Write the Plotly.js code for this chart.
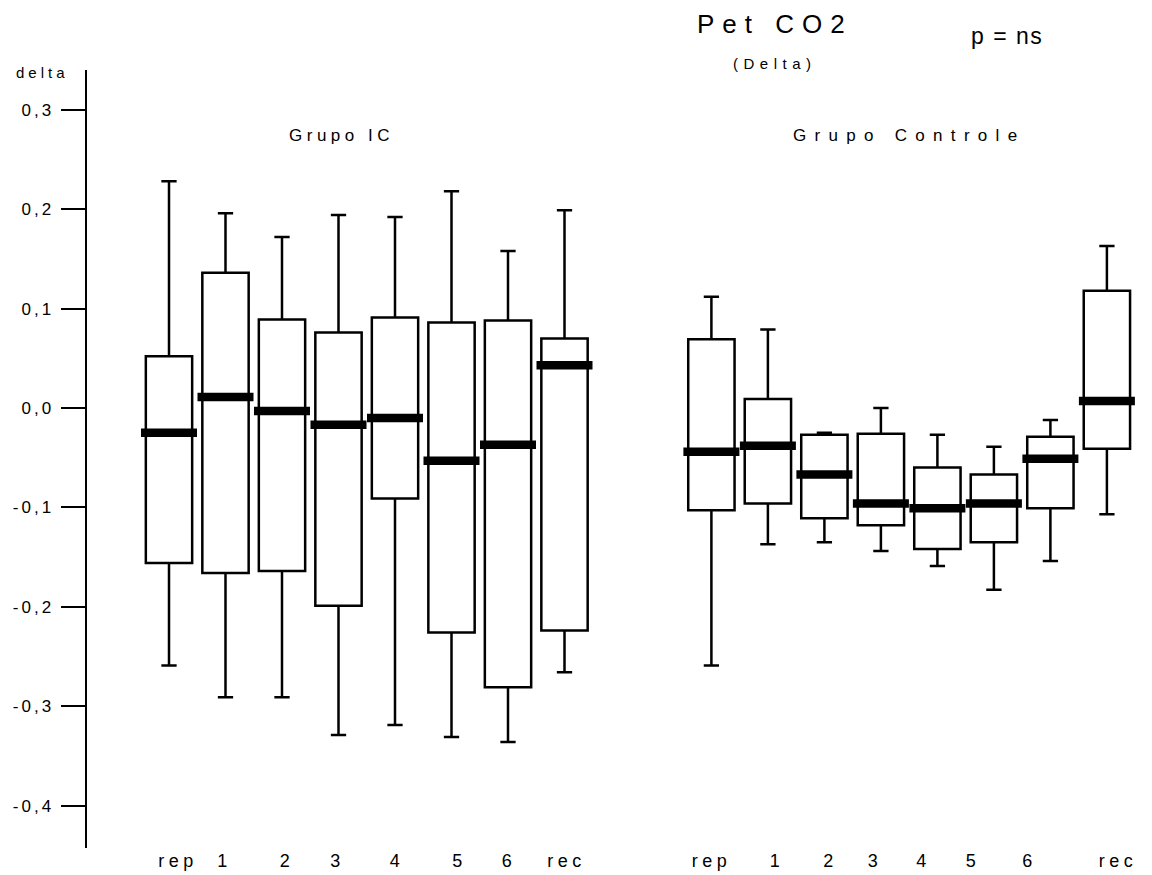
<!DOCTYPE html>
<html>
<head>
<meta charset="utf-8">
<script src="https://cdn.plot.ly/plotly-3.0.1.min.js"></script>
<style>
  html, body { margin: 0; padding: 0; background: #fff; }
  #chart { width: 1152px; height: 875px; }
</style>
</head>
<body>
<div id="chart"></div>
<script>
// ---------- DATA ----------
const categories = ['rep', '1', '2', '3', '4', '5', '6', 'rec'];
const groupNames = ['Grupo IC', 'Grupo Controle'];

// Grupo IC
const icUpper  = [0.228, 0.196, 0.172, 0.194, 0.192, 0.218, 0.158, 0.199];
const icQ3     = [0.052, 0.136, 0.089, 0.076, 0.091, 0.086, 0.088, 0.070];
const icMedian = [-0.025, 0.011, -0.003, -0.017, -0.010, -0.053, -0.037, 0.043];
const icQ1     = [-0.156, -0.166, -0.164, -0.199, -0.091, -0.226, -0.281, -0.224];
const icLower  = [-0.259, -0.291, -0.291, -0.329, -0.319, -0.331, -0.336, -0.266];

// Grupo Controle
const ctUpper  = [0.112, 0.079, -0.025, 0.000, -0.027, -0.039, -0.012, 0.163];
const ctQ3     = [0.069, 0.009, -0.027, -0.026, -0.060, -0.067, -0.029, 0.118];
const ctMedian = [-0.044, -0.038, -0.067, -0.096, -0.101, -0.096, -0.051, 0.007];
const ctQ1     = [-0.103, -0.096, -0.111, -0.118, -0.142, -0.135, -0.101, -0.041];
const ctLower  = [-0.259, -0.137, -0.135, -0.144, -0.159, -0.183, -0.154, -0.107];

const yTickVals = [-0.4, -0.3, -0.2, -0.1, 0.0, 0.1, 0.2, 0.3];
const yTickText = ['-0,4', '-0,3', '-0,2', '-0,1', '0,0', '0,1', '0,2', '0,3'];

// ---------- LAYOUT HELPERS ----------
const FONT = 'Liberation Sans, Arial, Helvetica, sans-serif';
const W = 1152, H = 875;
const M = { l: 87, r: 0, t: 70, b: 27 };
const PW = W - M.l - M.r, PH = H - M.t - M.b;
const groupOffset = [0, 9.6];           // second group shifted along x
const pxPerUnit = 56.5;
const firstCenterPx = 169;
const xRange = [-(firstCenterPx - M.l) / pxPerUnit, (W - M.r - firstCenterPx) / pxPerUnit];
const yRange = [-0.4427, 0.340];
// typographic nudges (px) of the category labels, as placed in the original figure
const labelNudgePx = [[9, -1, 5, -1, 2, 8, 1, 2], [0, 9, 6, -6, -14, -21, -21, 11]];

const px = x => (x - M.l) / PW;
const py = y => (H - M.b - y) / PH;
const sp = (txt, s) => '<span style="letter-spacing:' + s + 'px">' + txt + '</span>';

const pos = g => categories.map((c, i) => i + groupOffset[g]);
const xIC = pos(0), xCT = pos(1);
const labelPos = g => pos(g).map((v, i) => v + labelNudgePx[g][i] / pxPerUnit);

function boxTrace(x, lo, q1, med, q3, hi, name) {
  return {
    type: 'box', name: name, x: x,
    lowerfence: lo, q1: q1, median: med, q3: q3, upperfence: hi,
    width: 0.82, whiskerwidth: 0.33,
    boxpoints: false,
    fillcolor: '#ffffff',
    line: { color: '#000000', width: 2.5 },
    hoverinfo: 'skip', showlegend: false
  };
}
function medianTrace(x, med) {
  return {
    type: 'scatter', mode: 'markers', x: x, y: med,
    marker: { symbol: 'line-ew', size: 40, color: '#000', line: { color: '#000', width: 8.5 } },
    hoverinfo: 'skip', showlegend: false, cliponaxis: false
  };
}

const data = [
  boxTrace(xIC, icLower, icQ1, icMedian, icQ3, icUpper, groupNames[0]),
  boxTrace(xCT, ctLower, ctQ1, ctMedian, ctQ3, ctUpper, groupNames[1]),
  medianTrace(xIC, icMedian),
  medianTrace(xCT, ctMedian)
];

const ann = (text, x, y, size, spacing) => ({
  text: sp(text, spacing), xref: 'paper', yref: 'paper', x: px(x), y: py(y),
  xanchor: 'center', yanchor: 'middle', showarrow: false,
  font: { family: FONT, size: size, color: '#000' }
});

const layout = {
  width: W, height: H,
  margin: M,
  paper_bgcolor: '#fff', plot_bgcolor: '#fff',
  font: { family: FONT, color: '#000' },
  showlegend: false,
  xaxis: {
    range: xRange, showgrid: false, zeroline: false, showline: false, ticks: '',
    tickmode: 'array', tickvals: labelPos(0).concat(labelPos(1)),
    ticktext: categories.concat(categories).map(c => sp(c, 4.5)),
    tickfont: { family: FONT, size: 18, color: '#000' }, fixedrange: true
  },
  yaxis: {
    range: yRange, showgrid: false, zeroline: false,
    showline: true, linecolor: '#000', linewidth: 2.5,
    ticks: 'outside', ticklen: 24, tickwidth: 2, tickcolor: '#000',
    tickmode: 'array', tickvals: yTickVals, ticktext: yTickText.map(t => sp(t, 3)),
    ticklabelstandoff: 3,
    tickfont: { family: FONT, size: 17, color: '#000' }, fixedrange: true
  },
  annotations: [
    ann('Pet CO2', 775, 24, 26, 8),
    ann('(Delta)', 775, 63, 15, 5.5),
    ann('p = ns', 1007, 36, 23, 1.5),
    ann('delta', 42, 73, 15, 4),
    ann(groupNames[0], 341, 136, 17, 4.5),
    ann(groupNames[1], 909, 136, 17, 8.3)
  ]
};

Plotly.newPlot('chart', data, layout, { staticPlot: true, displayModeBar: false });
</script>
</body>
</html>
